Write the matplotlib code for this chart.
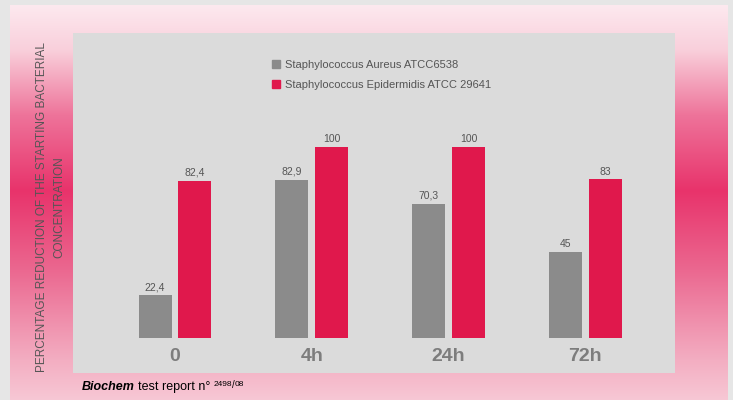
import numpy as np
import matplotlib
matplotlib.use("Agg")
import matplotlib.pyplot as plt
from matplotlib.patches import Rectangle, Patch
from matplotlib.colors import to_rgb

plt.rcParams['font.family'] = ['Liberation Sans', 'DejaVu Sans']

# --- DATA ---
times = ['0', '4h', '24h', '72h']
aureus = [22.4, 82.9, 70.3, 45]
epidermidis = [82.4, 100, 100, 83]
aureus_lbl = ['22,4', '82,9', '70,3', '45']
epidermidis_lbl = ['82,4', '100', '100', '83']
series_names = ['Staphylococcus Aureus ATCC6538', 'Staphylococcus Epidermidis ATCC 29641']

GRAY = '#8b8b8b'
RED = '#e0184c'
W, H = 733, 400

fig = plt.figure(figsize=(W / 100, H / 100), dpi=100, facecolor='#e6e6e6')

# --- background: pink gradient frame + grey panel (pixel coords, y down) ---
bg = fig.add_axes([0, 0, 1, 1])
bg.set_xlim(0, W)
bg.set_ylim(H, 0)
bg.axis('off')

knot_y = [5, 50, 115, 190, 270, 360, 400]
knot_c = ['#fde9ef', '#f9cfdb', '#ee739a', '#e8336b', '#eb6890', '#f3aec2', '#f7c8d5']
rows = np.arange(5, H)
rgb = np.array([to_rgb(c) for c in knot_c])
prof = np.stack([np.interp(rows, knot_y, rgb[:, k]) for k in range(3)], axis=1)
grad = np.repeat(prof[:, None, :], 2, axis=1)
bg.imshow(grad, extent=(10, 728, H, 5), aspect='auto', interpolation='bilinear')
bg.add_patch(Rectangle((73, 33), 602, 340, facecolor='#dbdbdb', edgecolor='none'))

# --- bars ---
ax = fig.add_axes([73 / W, 62 / H, 602 / W, 305 / H])
ax.set_facecolor('none')
x = np.arange(len(times))
bw = 0.241
off = 0.146
b1 = ax.bar(x - off, aureus, bw, color=GRAY, label=series_names[0])
b2 = ax.bar(x + off, epidermidis, bw, color=RED, label=series_names[1])
ax.bar_label(b1, labels=aureus_lbl, padding=2, fontsize=7.5, color='#555555')
ax.bar_label(b2, labels=epidermidis_lbl, padding=2, fontsize=7.5, color='#555555')
ax.set_xlim(-0.746, 3.657)
ax.set_ylim(0, 159.7)
ax.set_xticks(x)
ax.set_xticklabels(times, fontsize=14, fontweight='bold', color='#7d7d7d')
ax.tick_params(axis='x', length=0, pad=7)
ax.set_yticks([])
for s in ax.spines.values():
    s.set_visible(False)

fig.legend(handles=[Patch(color=GRAY), Patch(color=RED)], labels=series_names,
           loc='upper left', bbox_to_anchor=(266 / W, 1 - 54 / H), frameon=False,
           fontsize=8, labelcolor='#555555', handlelength=0.75, handleheight=0.75,
           handletextpad=0.5, labelspacing=0.9, borderpad=0)

# --- y label ---
fig.text(51 / W, 1 - 207 / H,
         'PERCENTAGE REDUCTION OF THE STARTING BACTERIAL\nCONCENTRATION',
         rotation=90, ha='center', va='center', fontsize=8.5, color='#555555',
         linespacing=1.6, multialignment='center')

# --- source note ---
r = fig.canvas.get_renderer()


def put(xpx, ypx, s, **kw):
    t = fig.text(xpx / W, 1 - ypx / H, s, va='baseline', ha='left', **kw)
    return t.get_window_extent(r).x1


xx = put(82, 390, 'Biochem', fontsize=9, fontweight='bold', style='italic', color='black')
xx = put(xx + 3, 390, 'test report n°', fontsize=9, color='black')
xx = put(xx + 3, 386, '2498', fontsize=6, color='black')
xx = put(xx, 388, '/', fontsize=7, color='black')
xx = put(xx, 386, '08', fontsize=6, color='black')

fig.savefig('out.png', dpi=100, facecolor=fig.get_facecolor())
